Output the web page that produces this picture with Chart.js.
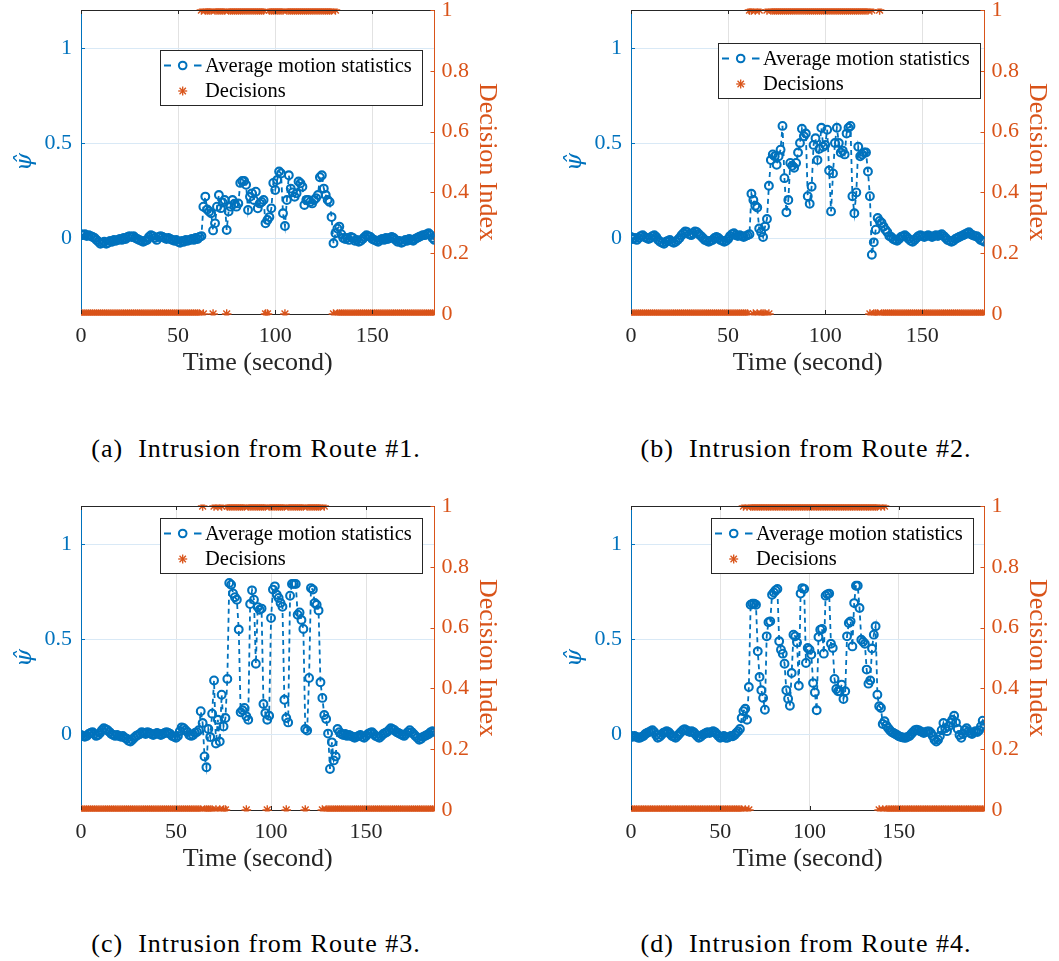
<!DOCTYPE html>
<html><head><meta charset="utf-8">
<script src="https://cdn.jsdelivr.net/npm/chart.js@4/dist/chart.umd.min.js"></script>
<style>
html,body{margin:0;padding:0;background:#fff;overflow:hidden}
body{width:1059px;height:961px;position:relative}
.panel{position:absolute;width:530px;height:400px}
.cap{position:absolute;font-family:"Liberation Serif","DejaVu Serif",serif;font-size:26px;line-height:30px;letter-spacing:1px;color:#000;white-space:nowrap;transform:translateX(-50%)}
</style></head>
<body>
<div class="panel" style="left:0;top:0"><canvas id="cA"></canvas></div>
<div class="panel" style="left:550px;top:0"><canvas id="cB"></canvas></div>
<div class="panel" style="left:0;top:496px"><canvas id="cC"></canvas></div>
<div class="panel" style="left:550px;top:496px"><canvas id="cD"></canvas></div>
<div class="cap" style="left:256px;top:434px">(a)&nbsp; Intrusion from Route #1.</div>
<div class="cap" style="left:806px;top:434px">(b)&nbsp; Intrusion from Route #2.</div>
<div class="cap" style="left:256px;top:929px">(c)&nbsp; Intrusion from Route #3.</div>
<div class="cap" style="left:806px;top:929px">(d)&nbsp; Intrusion from Route #4.</div>
<script>
// ---- tick labels ----
const xTicks = [0, 50, 100, 150];
const psiTicks = [0, 0.5, 1];
const decTicks = [0, 0.2, 0.4, 0.6, 0.8, 1];
const legendLabels = ['Average motion statistics', 'Decisions'];

// ---- series (one value per second, starting at t = 0) ----
const psiA = [
0.02,0.015,0.02,0.01,0.015,0.01,0.005,0,-0.01,-0.02,
-0.03,-0.025,-0.02,-0.03,-0.025,-0.015,-0.02,-0.01,-0.015,-0.01,
-0.005,-0.01,0,-0.005,0.005,0.01,0.005,0.01,0,-0.005,
-0.01,-0.015,-0.02,-0.015,-0.01,0.005,0.015,0.01,0,-0.01,
0.005,0.01,0.005,0,-0.005,0,-0.005,-0.01,-0.015,-0.01,
-0.02,-0.025,-0.015,-0.02,-0.01,-0.015,-0.01,-0.005,-0.01,0,
-0.005,0.005,0.01,0.165,0.218,0.15,0.14,0.13,0.04,0.077,
0.165,0.226,0.157,0.186,0.2,0.042,0.14,0.165,0.2,0.18,
0.165,0.182,0.29,0.3,0.3,0.28,0.147,0.217,0.235,0.2,
0.244,0.156,0.182,0.19,0.2,0.077,0.095,0.11,0.156,0.29,
0.253,0.305,0.35,0.34,0.13,0.063,0.2,0.33,0.26,0.24,
0.217,0.235,0.297,0.288,0.27,0.174,0.2,0.2,0.19,0.182,
0.2,0.21,0.226,0.32,0.33,0.26,0.226,0.2,0.19,0.11,
-0.028,0.025,0.05,0.06,0.02,0,-0.005,0,-0.01,0.005,
0,-0.015,-0.01,-0.02,-0.015,-0.005,0.005,0.015,0.01,0.005,
-0.005,-0.01,-0.015,-0.02,-0.01,-0.005,-0.01,0,-0.005,0,
0.005,0,-0.01,-0.02,-0.015,-0.025,-0.02,-0.01,-0.015,-0.005,
-0.01,-0.015,-0.005,0,0.005,0.01,0.015,0.015,0.02,0.025,
0.015,0,-0.01
];
const decA = [
0,0,0,0,0,0,0,0,0,0,0,0,0,0,0,0,0,0,0,0,
0,0,0,0,0,0,0,0,0,0,0,0,0,0,0,0,0,0,0,0,
0,0,0,0,0,0,0,0,0,0,0,0,0,0,0,0,0,0,0,0,
0,0,1,0,1,1,1,1,0,1,1,1,1,1,1,0,1,1,1,1,
1,1,1,1,1,1,1,1,1,1,1,1,1,1,1,0,0,1,1,1,
1,1,1,1,1,0,1,1,1,1,1,1,1,1,1,1,1,1,1,1,
1,1,1,1,1,1,1,1,1,1,0,1,0,0,0,0,0,0,0,0,
0,0,0,0,0,0,0,0,0,0,0,0,0,0,0,0,0,0,0,0,
0,0,0,0,0,0,0,0,0,0,0,0,0,0,0,0,0,0,0,0,
0,0,0
];
const psiB = [
0.005,-0.005,0,-0.01,0,0.01,0.015,0.005,0,-0.005,
0,0.01,0.015,0.005,-0.01,-0.02,-0.025,-0.03,-0.02,-0.015,
-0.01,-0.02,-0.025,-0.02,-0.01,0,0.015,0.025,0.035,0.03,
0.02,0.015,0.025,0.035,0.03,0.02,0.01,0,-0.01,-0.015,
-0.02,-0.015,-0.01,0,0.005,0,-0.01,-0.015,-0.02,-0.015,
-0.005,0.01,0.02,0.025,0.015,0.01,0.015,0.01,0.005,0.01,
0.015,0.02,0.233,0.2,0.17,0.16,0.05,0.03,0.005,0.06,
0.1,0.275,0.41,0.44,0.43,0.385,0.43,0.465,0.59,0.315,
0.135,0.2,0.395,0.38,0.37,0.395,0.45,0.5,0.575,0.535,
0.55,0.22,0.18,0.27,0.49,0.525,0.41,0.47,0.58,0.48,
0.49,0.57,0.355,0.14,0.34,0.5,0.58,0.5,0.45,0.46,
0.44,0.55,0.58,0.59,0.22,0.13,0.24,0.48,0.43,0.44,
0.45,0.45,0.35,0.22,-0.088,-0.023,0.044,0.105,0.09,0.08,
0.06,0.044,0.03,0.01,0.005,-0.005,-0.01,-0.015,-0.005,0.005,
0.01,0.015,0.005,-0.005,-0.015,-0.02,-0.01,0,0.01,0.015,
0.01,0.005,0.01,0.015,0.01,0.005,0.01,0.015,0.01,0.015,
0.02,0.01,0,-0.01,-0.015,-0.02,-0.015,-0.005,0,0.005,
0.01,0.015,0.02,0.025,0.03,0.02,0.015,0.01,0.01,0,
-0.01,-0.015,-0.02
];
const decB = [
0,0,0,0,0,0,0,0,0,0,0,0,0,0,0,0,0,0,0,0,
0,0,0,0,0,0,0,0,0,0,0,0,0,0,0,0,0,0,0,0,
0,0,0,0,0,0,0,0,0,0,0,0,0,0,0,0,0,0,0,0,
0,1,1,0,1,0,1,0,0,0,1,0,1,1,1,1,1,1,1,1,
1,1,1,1,1,1,1,1,1,1,1,1,1,1,1,1,1,1,1,1,
1,1,1,1,1,1,1,1,1,1,1,1,1,1,1,1,1,1,1,1,
1,1,1,0,1,0,0,0,1,0,0,0,0,0,0,0,0,0,0,0,
0,0,0,0,0,0,0,0,0,0,0,0,0,0,0,0,0,0,0,0,
0,0,0,0,0,0,0,0,0,0,0,0,0,0,0,0,0,0,0,0,
0,0,0
];
const psiC = [
-0.005,-0.01,-0.015,-0.01,0,0.005,0.01,0,-0.01,-0.005,
0.005,0.02,0.03,0.025,0.02,0.01,0,-0.005,-0.01,-0.005,
-0.01,-0.015,-0.01,-0.02,-0.025,-0.035,-0.04,-0.03,-0.02,-0.01,
-0.005,0,0.01,0.005,0,0.01,0.005,0,-0.005,0,
0.005,0,-0.005,0,0.005,0.01,0.005,0,-0.01,-0.015,
-0.02,-0.01,0.015,0.035,0.03,0.02,0.01,-0.005,-0.01,-0.005,
0.005,0.01,0.02,0.12,0.058,-0.118,-0.175,0.026,-0.016,0.107,
0.282,-0.05,0.075,-0.04,0.207,0.04,0.084,0.29,0.795,0.786,
0.74,0.72,0.707,0.55,0.114,0.125,0.137,0.093,0.075,0.684,
0.756,0.707,0.37,0.668,0.654,0.66,0.158,0.11,0.075,0.096,
0.61,0.76,0.777,0.733,0.716,0.69,0.67,0.18,0.084,0.061,
0.728,0.79,0.79,0.79,0.628,0.64,0.6,0.553,0.026,0.018,
0.295,0.768,0.76,0.69,0.68,0.65,0.272,0.19,0.1,0.079,
0.002,-0.184,-0.044,-0.139,-0.118,0.026,0.01,0,-0.005,0,
-0.01,-0.005,-0.01,-0.015,-0.02,-0.015,-0.01,-0.005,-0.015,-0.02,
-0.01,0,0.005,0.01,0,-0.01,-0.015,-0.02,-0.01,0,
0.005,0.01,0.02,0.03,0.025,0.02,0.01,0.005,0,-0.005,
-0.01,0,0.01,0.02,0.01,0,-0.01,-0.02,-0.03,-0.025,
-0.015,-0.01,-0.005,0,0.01,0.015,0.01
];
const decC = [
0,0,0,0,0,0,0,0,0,0,0,0,0,0,0,0,0,0,0,0,
0,0,0,0,0,0,0,0,0,0,0,0,0,0,0,0,0,0,0,0,
0,0,0,0,0,0,0,0,0,0,0,0,0,0,0,0,0,0,0,0,
0,0,0,0,1,0,0,0,0,0,1,0,1,0,1,0,0,1,1,1,
1,1,1,1,1,1,1,0,1,1,1,1,1,1,1,1,1,1,0,1,
1,1,1,1,1,1,1,1,0,1,1,1,1,1,1,1,1,1,0,1,
1,1,1,1,1,1,1,0,1,0,0,0,0,0,0,0,0,0,0,0,
0,0,0,0,0,0,0,0,0,0,0,0,0,0,0,0,0,0,0,0,
0,0,0,0,0,0,0,0,0,0,0,0,0,0,0,0,0,0,0,0,
0,0,0,0,0,0,0
];
const psiD = [
-0.01,-0.015,-0.01,-0.015,-0.02,-0.02,-0.015,-0.01,0,0.005,
0.01,0.015,0.02,0.01,-0.005,-0.02,-0.015,-0.005,0.005,0.01,
0.015,0.01,0,-0.01,-0.015,-0.02,-0.01,0,0.01,0.02,
0.025,0.02,0.015,0.01,0.015,0.01,0,-0.01,-0.02,-0.015,
-0.005,0,0.005,0.01,0.005,0.01,0.015,0.01,0,-0.01,
-0.02,-0.015,-0.01,-0.02,-0.02,-0.015,-0.01,-0.012,-0.005,0.005,
0.014,0.026,0.084,0.12,0.133,0.075,0.247,0.68,0.686,0.686,
0.68,0.435,0.3,0.23,0.19,0.128,0.514,0.588,0.593,0.733,
0.745,0.756,0.763,0.488,0.444,0.423,0.37,0.23,0.186,0.149,
0.321,0.523,0.514,0.482,0.254,0.739,0.768,0.763,0.374,0.453,
0.444,0.418,0.268,0.219,0.125,0.51,0.549,0.553,0.423,0.728,
0.735,0.739,0.475,0.453,0.29,0.237,0.225,0.225,0.26,0.184,
0.225,0.514,0.584,0.593,0.461,0.689,0.78,0.78,0.663,0.496,
0.485,0.475,0.339,0.265,0.282,0.45,0.523,0.567,0.207,0.146,
0.137,0.053,0.067,0.045,0.032,0.02,0.01,0.005,0,-0.005,
-0.012,-0.015,-0.018,-0.02,-0.02,-0.015,-0.01,0,0.01,0.02,
0.023,0.02,0.015,0.01,0.005,0.01,0.014,0.014,0.005,-0.01,
-0.03,-0.04,-0.03,-0.01,0.02,0.058,0.03,0.015,0.04,0.06,
0.075,0.096,0.06,0.026,-0.005,-0.02,0,0.02,0.03,0.015,
0.005,0,0.01,0.015,0.01,0.02,0.04,0.07,0.05
];
const decD = [
0,0,0,0,0,0,0,0,0,0,0,0,0,0,0,0,0,0,0,0,
0,0,0,0,0,0,0,0,0,0,0,0,0,0,0,0,0,0,0,0,
0,0,0,0,0,0,0,0,0,0,0,0,0,0,0,0,0,0,0,0,
0,0,0,1,0,1,0,1,1,1,1,1,1,1,1,1,1,1,1,1,
1,1,1,1,1,1,1,1,1,1,1,1,1,1,1,1,1,1,1,1,
1,1,1,1,1,1,1,1,1,1,1,1,1,1,1,1,1,1,1,1,
1,1,1,1,1,1,1,1,1,1,1,1,1,1,1,1,1,1,1,0,
1,0,1,0,0,0,0,0,0,0,0,0,0,0,0,0,0,0,0,0,
0,0,0,0,0,0,0,0,0,0,0,0,0,0,0,0,0,0,0,0,
0,0,0,0,0,0,0,0,0,0,0,0,0,0,0,0,0,0,0
];

// ---- styling / layout ----
const BLUE = '#0072BD', ORANGE = '#D95319', DARK = '#262626';
const SERIF = '"Liberation Serif", "DejaVu Serif", serif';
const fmt = v => String(Math.round(v * 100) / 100);

function line(ctx, x1, y1, x2, y2) { ctx.beginPath(); ctx.moveTo(x1, y1); ctx.lineTo(x2, y2); ctx.stroke(); }
function star(ctx, x, y, r) {
  for (let k = 0; k < 4; k++) {
    const a = k * Math.PI / 4, dx = Math.cos(a) * r, dy = Math.sin(a) * r;
    line(ctx, x - dx, y - dy, x + dx, y + dy);
  }
}

const decor = {
  id: 'decor',
  afterDraw(chart, args, opts) {
    const { ctx, chartArea: a, scales } = chart;
    ctx.save();
    ctx.lineWidth = 1;
    ctx.strokeStyle = DARK;
    line(ctx, a.left, Math.round(a.top) + 0.5, a.right, Math.round(a.top) + 0.5);
    const TL = 4;
    scales.x.ticks.forEach(t => {
      const px = Math.round(scales.x.getPixelForValue(t.value)) + 0.5;
      line(ctx, px, a.bottom, px, a.bottom - TL);
      line(ctx, px, a.top, px, a.top + TL);
    });
    ctx.strokeStyle = BLUE;
    scales.yL.ticks.forEach(t => {
      const py = Math.round(scales.yL.getPixelForValue(t.value)) + 0.5;
      line(ctx, a.left, py, a.left + TL, py);
    });
    ctx.strokeStyle = ORANGE;
    scales.yR.ticks.forEach(t => {
      const py = Math.round(scales.yR.getPixelForValue(t.value)) + 0.5;
      line(ctx, a.right, py, a.right - TL, py);
    });
    // legend
    const lx = Math.round(a.left + opts.pos[0]), ly = Math.round(a.top + opts.pos[1]);
    const W = 262, H = 55;
    ctx.fillStyle = '#fff';
    ctx.fillRect(lx, ly, W, H);
    ctx.strokeStyle = DARK;
    ctx.strokeRect(lx + 0.5, ly + 0.5, W, H);
    const y1 = ly + 15.5, y2 = ly + 41;
    ctx.strokeStyle = BLUE; ctx.lineWidth = 2;
    line(ctx, lx + 4, y1, lx + 11, y1);
    line(ctx, lx + 34, y1, lx + 41.5, y1);
    ctx.beginPath(); ctx.arc(lx + 22.7, y1, 3.8, 0, Math.PI * 2); ctx.stroke();
    ctx.strokeStyle = ORANGE; ctx.lineWidth = 1.3;
    star(ctx, lx + 22.7, y2, 4.5);
    ctx.fillStyle = '#000';
    ctx.font = '20.5px ' + SERIF;
    ctx.textBaseline = 'middle';
    ctx.textAlign = 'left';
    ctx.fillText(legendLabels[0], lx + 45, y1 + 1);
    ctx.fillText(legendLabels[1], lx + 45, y2 + 1);
    ctx.restore();
  }
};

const panels = [
  { id: 'cA', psi: psiA, dec: decA, legend: [79, 40] },
  { id: 'cB', psi: psiB, dec: decB, legend: [86.5, 33] },
  { id: 'cC', psi: psiC, dec: decC, legend: [79.3, 12.3] },
  { id: 'cD', psi: psiD, dec: decD, legend: [80, 12.3] }
];

const noPadY = s => { s.paddingTop = 0; s.paddingBottom = 0; };

panels.forEach(p => {
  const psiPts = p.psi.map((v, i) => ({ x: i, y: v }));
  const decPts = p.dec.map((v, i) => ({ x: i, y: v }));
  new Chart(document.getElementById(p.id), {
    type: 'line',
    data: {
      datasets: [
        {
          label: legendLabels[0], data: psiPts, yAxisID: 'yL',
          borderColor: BLUE, borderWidth: 1.8, borderDash: [5, 4], tension: 0,
          pointStyle: 'circle', pointRadius: 3.9, pointBorderWidth: 2.1,
          pointBorderColor: BLUE, pointBackgroundColor: 'rgba(0,0,0,0)', fill: false
        },
        {
          label: legendLabels[1], data: decPts, yAxisID: 'yR', showLine: false,
          pointStyle: 'star', pointRadius: 4.8, pointBorderWidth: 1.4,
          pointBorderColor: ORANGE, pointBackgroundColor: ORANGE, borderColor: ORANGE,
          clip: { left: 0, right: 0, top: 1.5, bottom: 1.5 }
        }
      ]
    },
    options: {
      responsive: true, maintainAspectRatio: false, animation: false,
      events: [],
      layout: { padding: { top: 10, left: 0, right: 0, bottom: 0 } },
      plugins: { legend: { display: false }, tooltip: { enabled: false }, decor: { pos: p.legend } },
      scales: {
        x: {
          type: 'linear', position: 'bottom', min: 0, max: p.psi.length - 1,
          afterBuildTicks: s => { s.ticks = xTicks.map(v => ({ value: v })); },
          afterFit: s => { s.height = 86; s.paddingLeft = 0; s.paddingRight = 0; },
          ticks: { color: DARK, padding: 9, maxRotation: 0, font: { family: SERIF, size: 22 }, callback: fmt },
          grid: { color: '#e2e2e2', lineWidth: 1, drawTicks: false },
          border: { color: DARK, width: 1 },
          title: { display: true, text: 'Time (second)', color: DARK,
                   font: { family: SERIF, size: 26, lineHeight: 1 }, padding: { top: 0, bottom: 24 } }
        },
        yL: {
          type: 'linear', position: 'left', min: -0.4, max: 1.2,
          afterBuildTicks: s => { s.ticks = psiTicks.map(v => ({ value: v })); },
          afterFit: s => { s.width = 81; noPadY(s); },
          ticks: { color: BLUE, padding: 9, font: { family: SERIF, size: 22 }, callback: fmt },
          grid: { color: '#d9e9f6', lineWidth: 1, drawTicks: false },
          border: { color: BLUE, width: 1 },
          title: { display: true, text: '\u03C8\u0302', color: BLUE,
                   font: { family: '"DejaVu Serif", serif', size: 23, style: 'italic', lineHeight: 1 }, padding: { top: 14, bottom: 0 } }
        },
        yR: {
          type: 'linear', position: 'right', min: 0, max: 1,
          afterBuildTicks: s => { s.ticks = decTicks.map(v => ({ value: v })); },
          afterFit: s => { s.width = 95.5; noPadY(s); },
          ticks: { color: ORANGE, padding: 7, font: { family: SERIF, size: 22 }, callback: fmt },
          grid: { drawOnChartArea: false, drawTicks: false },
          border: { color: ORANGE, width: 1 },
          title: { display: true, text: 'Decision Index', color: ORANGE,
                   font: { family: SERIF, size: 26, lineHeight: 1 }, padding: { top: 30, bottom: 0 } }
        }
      }
    },
    plugins: [decor]
  });
});
</script>
</body></html>
